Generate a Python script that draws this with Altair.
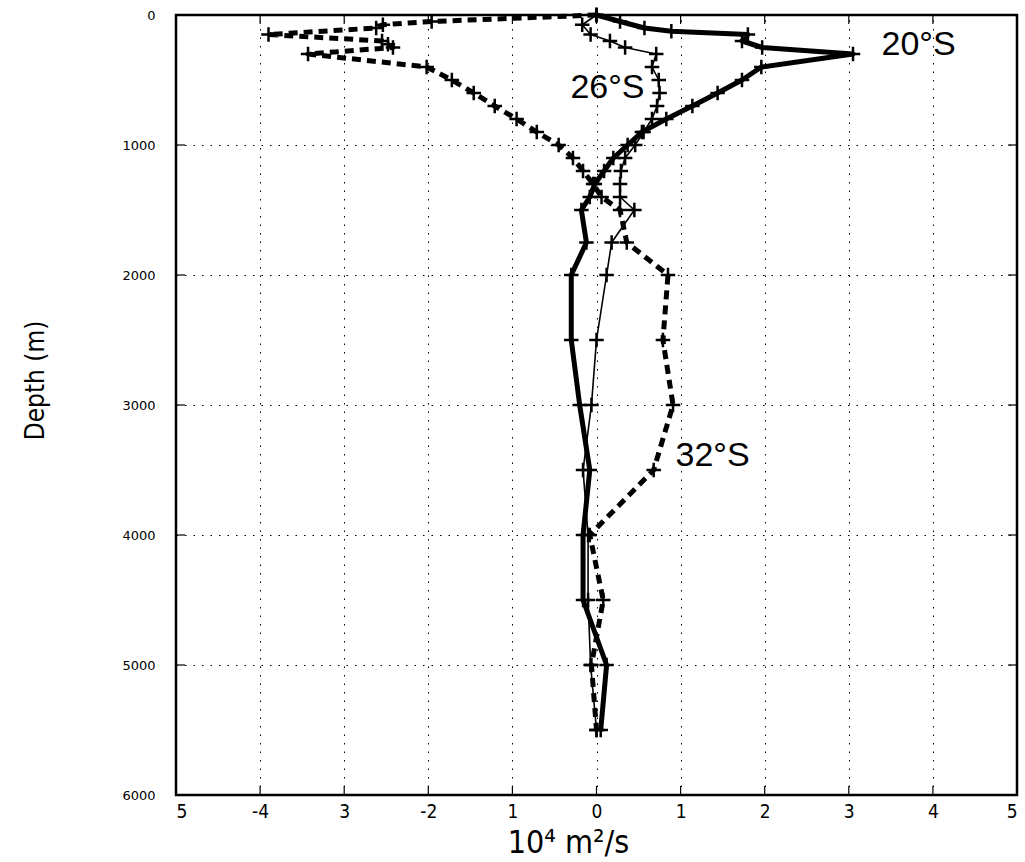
import altair as alt
import pandas as pd

# ---- data ----
depth_20 = [0, 50, 100, 125, 150, 200, 250, 300, 400, 500, 600, 700, 800, 900, 1000,
            1100, 1200, 1300, 1400, 1500, 1750, 2000, 2500, 3000, 3500, 4000, 4500, 5000, 5500]
kappa_20 = [0.0, 0.28, 0.57, 0.89, 1.80, 1.73, 1.97, 3.05, 1.96, 1.73, 1.44, 1.14, 0.83, 0.54, 0.37,
            0.20, 0.09, -0.02, -0.08, -0.18, -0.12, -0.30, -0.30, -0.20, -0.08, -0.16, -0.16, 0.12, 0.05]

depth_26 = [0, 75, 150, 200, 250, 300, 400, 500, 600, 700, 800, 900, 1000,
            1100, 1200, 1300, 1400, 1500, 1750, 2000, 2500, 3000, 3500, 4000, 4500, 5000, 5500]
kappa_26 = [0.0, -0.17, -0.07, 0.16, 0.34, 0.71, 0.66, 0.74, 0.75, 0.72, 0.66, 0.56, 0.46,
            0.34, 0.29, 0.28, 0.28, 0.45, 0.18, 0.12, 0.0, -0.06, -0.16, -0.10, -0.10, -0.07, 0.0]

depth_32 = [0, 50, 75, 100, 150, 200, 225, 250, 300, 400, 500, 600, 700, 800, 900, 1000,
            1100, 1200, 1300, 1400, 1500, 1750, 2000, 2500, 3000, 3500, 4000, 4500, 5000, 5500]
kappa_32 = [0.0, -1.96, -2.54, -2.62, -3.90, -2.55, -2.48, -2.42, -3.43, -2.02, -1.72, -1.46, -1.21, -0.95, -0.71, -0.45,
            -0.28, -0.16, -0.04, 0.06, 0.28, 0.36, 0.85, 0.79, 0.91, 0.68, -0.08, 0.08, -0.06, 0.0]

label_text = ["20°S", "26°S", "32°S"]
label_kappa = [3.83, 0.13, 1.38]
label_depth = [230, 560, 3390]

x_ticks = [-5, -4, -3, -2, -1, 0, 1, 2, 3, 4, 5]
x_tick_labels = ["5", "-4", "3", "-2", "1", "0", "1", "2", "3", "4", "5"]
y_ticks = [0, 1000, 2000, 3000, 4000, 5000, 6000]

# ---- tables ----
def table(name, d, k):
    return pd.DataFrame({"section": name, "depth": d, "kappa": k})

df20 = table("20°S", depth_20, kappa_20)
df26 = table("26°S", depth_26, kappa_26)
df32 = table("32°S", depth_32, kappa_32)
df_lab = pd.DataFrame({"text": label_text, "kappa": label_kappa, "depth": label_depth})
df_xt = pd.DataFrame({"kappa": x_ticks})
df_yt = pd.DataFrame({"depth": y_ticks})

W, H = 841, 780
xs = alt.Scale(domain=[-5, 5], nice=False, zero=False)
ys = alt.Scale(domain=[0, 6000], reverse=True, nice=False, zero=False)

NARROW = "Liberation Sans Narrow, DejaVu Sans Condensed, sans-serif"

label_expr = " : ".join(
    f"datum.value == {v} ? '{t}'" for v, t in zip(x_ticks, x_tick_labels)
) + " : ''"

x_axis = alt.Axis(
    values=x_ticks, labelExpr=label_expr, grid=True, ticks=False, domain=False,
    gridColor="black", gridDash=[1.5, 7], gridWidth=1, gridOpacity=1,
    labelFont=NARROW, labelFontSize=19, labelColor="black", labelPadding=7,
    title="10⁴ m²/s", titleFont=NARROW, titleFontSize=32, titleFontWeight="normal",
    titleColor="black", titleX=392, titleY=47, titleBaseline="middle", titleAlign="center",
)
y_axis = alt.Axis(
    values=y_ticks, format="d", grid=True, ticks=False, domain=False,
    gridColor="black", gridDash=[1.5, 7], gridWidth=1, gridOpacity=1,
    labelFont="DejaVu Sans", labelFontSize=13, labelColor="black", labelPadding=21,
    title="Depth (m)", titleFont=NARROW, titleFontSize=26, titleFontWeight="normal",
    titleColor="black", titleX=-141, titleY=365, titleAngle=-90,
    titleBaseline="middle", titleAlign="center",
)

X = lambda: alt.X("kappa:Q", scale=xs, axis=x_axis)
Y = lambda: alt.Y("depth:Q", scale=ys, axis=y_axis)

def line_layer(df, sw, dash=None):
    kw = dict(color="black", strokeWidth=sw, strokeJoin="round")
    if dash:
        kw["strokeDash"] = dash
    line = alt.Chart(df).mark_line(**kw).encode(x=X(), y=Y(), order="depth:Q")
    pts = alt.Chart(df).mark_point(
        shape="M-1,0L1,0M0,-1L0,1", filled=False, color="black",
        strokeWidth=2.5, size=210, opacity=1,
    ).encode(x=X(), y=Y())
    return line + pts

l20 = line_layer(df20, 5)
l26 = line_layer(df26, 1.6)
l32 = line_layer(df32, 5, dash=[9, 6])

labels = alt.Chart(df_lab).mark_text(
    font="Liberation Sans", fontSize=34, color="black", align="center", baseline="middle"
).encode(x=X(), y=Y(), text="text:N")

TL = 9
tick_kw = dict(color="black", strokeWidth=1.2)
t_bottom = alt.Chart(df_xt).mark_rule(**tick_kw).encode(
    x=X(), y=alt.value(H), y2=alt.value(H - TL))
t_top = alt.Chart(df_xt).mark_rule(**tick_kw).encode(
    x=X(), y=alt.value(0), y2=alt.value(TL))
t_left = alt.Chart(df_yt).mark_rule(**tick_kw).encode(
    y=Y(), x=alt.value(0), x2=alt.value(TL))
t_right = alt.Chart(df_yt).mark_rule(**tick_kw).encode(
    y=Y(), x=alt.value(W), x2=alt.value(W - TL))

chart = alt.layer(
    t_bottom, t_top, t_left, t_right, l20, l26, l32, labels
).properties(
    width=W, height=H,
    autosize=alt.AutoSizeParams(type="none"),
    padding={"left": 176, "top": 15, "right": 8, "bottom": 67},
    background="white",
).configure_view(
    stroke="black", strokeWidth=2.5
)

chart.save("out.html", embed_options={"renderer": "svg", "actions": False})
